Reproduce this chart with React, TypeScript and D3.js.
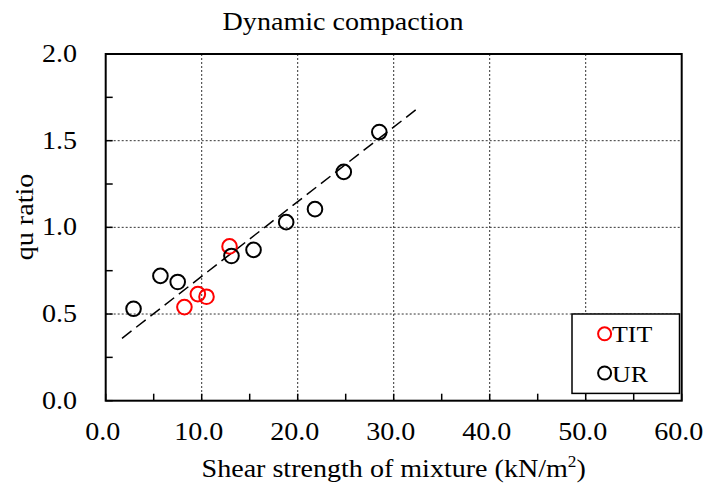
import React from "react";
import * as d3 from "d3";

// Measured series
const urX = [2.9, 5.7, 7.5, 13.1, 15.4, 18.8, 21.8, 24.8, 28.5];
const urY = [0.53, 0.72, 0.685, 0.835, 0.87, 1.03, 1.105, 1.32, 1.55];
const titX = [8.2, 9.6, 10.5, 12.9];
const titY = [0.54, 0.615, 0.6, 0.89];
// Linear trend line end points
const trendX = [1.7, 32.7];
const trendY = [0.36, 1.695];

const xTicks = [0, 10, 20, 30, 40, 50, 60];
const yTicks = [0, 0.5, 1.0, 1.5, 2.0];
const xMinor = d3.range(0, 60.01, 5);
const yMinor = d3.range(0, 2.001, 0.25);

const W = 706;
const H = 488;
const left = 105.7;
const right = 681.7;
const top = 54;
const bottom = 400.7;

const FONT = "'Liberation Serif', 'Times New Roman', serif";
const SX = 1.08;

function Txt(props: { x: number; y: number; anchor?: string; size?: number; rotate?: number; children: React.ReactNode }) {
  const { x, y, anchor = "start", size = 26, rotate = 0, children } = props;
  return (
    <text
      transform={`translate(${x},${y}) rotate(${rotate}) scale(${SX},1)`}
      textAnchor={anchor}
      fontFamily={FONT}
      fontSize={size}
      fill="#000"
    >
      {children}
    </text>
  );
}

export default function App() {
  const x = d3.scaleLinear().domain([0, 60]).range([left, right]);
  const y = d3.scaleLinear().domain([0, 2]).range([bottom, top]);
  const urPts = urX.map((v, i) => [v, urY[i]] as [number, number]);
  const titPts = titX.map((v, i) => [v, titY[i]] as [number, number]);
  const trend = trendX.map((v, i) => [v, trendY[i]] as [number, number]);
  const line = d3.line<[number, number]>().x((d) => x(d[0])).y((d) => y(d[1]));

  const legX = 572;
  const legY = 314;

  return (
    <svg
      width={W}
      height={H}
      style={{ position: "absolute", left: 0, top: 0, background: "#fff" }}
    >
      <rect x={0} y={0} width={W} height={H} fill="#fff" />

      {/* grid */}
      {xTicks.slice(1, -1).map((t) => (
        <line key={"gx" + t} x1={x(t)} x2={x(t)} y1={top} y2={bottom} stroke="#333" strokeWidth={1} strokeDasharray="2,2" />
      ))}
      {yTicks.slice(1, -1).map((t) => (
        <line key={"gy" + t} x1={left} x2={right} y1={y(t)} y2={y(t)} stroke="#333" strokeWidth={1} strokeDasharray="2,2" />
      ))}

      {/* inward ticks */}
      {xMinor.map((t) => (
        <line key={"tx" + t} x1={x(t)} x2={x(t)} y1={bottom} y2={bottom - 7} stroke="#000" strokeWidth={1.5} />
      ))}
      {yMinor.map((t) => (
        <line key={"ty" + t} x1={left} x2={left + 7} y1={y(t)} y2={y(t)} stroke="#000" strokeWidth={1.5} />
      ))}

      {/* trend line */}
      <path d={line(trend) || ""} fill="none" stroke="#000" strokeWidth={1.5} strokeDasharray="12,6" />

      {/* points */}
      {titPts.map((p, i) => (
        <circle key={"t" + i} cx={x(p[0])} cy={y(p[1])} r={7.3} fill="none" stroke="#ff0000" strokeWidth={2} />
      ))}
      {urPts.map((p, i) => (
        <circle key={"u" + i} cx={x(p[0])} cy={y(p[1])} r={7.3} fill="none" stroke="#000" strokeWidth={2} />
      ))}

      {/* frame */}
      <rect x={left} y={top} width={right - left} height={bottom - top} fill="none" stroke="#000" strokeWidth={2} />

      {/* legend */}
      <rect x={legX} y={legY} width={107.5} height={79.4} fill="#fff" stroke="#000" strokeWidth={1.5} />
      <circle cx={604.6} cy={333.8} r={6.5} fill="none" stroke="#ff0000" strokeWidth={2} />
      <Txt x={612} y={342} size={24}>TIT</Txt>
      <circle cx={604.6} cy={373} r={6.5} fill="none" stroke="#000" strokeWidth={2} />
      <Txt x={612} y={382} size={24}>UR</Txt>

      {/* tick labels */}
      {xTicks.map((t) => (
        <Txt key={"lx" + t} x={x(t) - 3} y={440} anchor="middle">{t.toFixed(1)}</Txt>
      ))}
      {yTicks.map((t) => (
        <Txt key={"ly" + t} x={77} y={y(t) + 8} anchor="end">{t.toFixed(1)}</Txt>
      ))}

      {/* titles */}
      <Txt x={343} y={30} anchor="middle">Dynamic compaction</Txt>
      <Txt x={(left + right) / 2} y={477} anchor="middle">
        Shear strength of mixture (kN/m<tspan fontSize={16} dy={-10}>2</tspan><tspan dy={10}>)</tspan>
      </Txt>
      <Txt x={33} y={217} anchor="middle" rotate={-90}>qu ratio</Txt>
    </svg>
  );
}
